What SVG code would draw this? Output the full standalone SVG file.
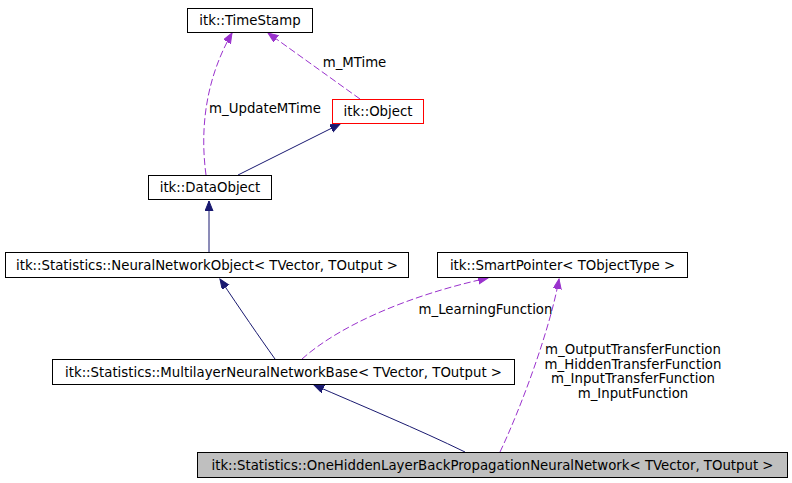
<svg xmlns="http://www.w3.org/2000/svg" width="792" height="483" viewBox="0 0 792 483">
<style>
text { font-family: "DejaVu Sans", "Liberation Sans", sans-serif; font-size: 13.3px; fill: #000; }
.node rect { fill: #fff; stroke: #000; stroke-width: 1; }
.node text { text-anchor: middle; }
.inh { fill: none; stroke: #191970; stroke-width: 1; marker-end: url(#navyArrow); }
.use { fill: none; stroke: #9a32cd; stroke-width: 1; stroke-dasharray: 7,3; marker-end: url(#purpleArrow); }
.lbl { text-anchor: middle; }
</style>
<defs>
<marker id="navyArrow" markerUnits="userSpaceOnUse" markerWidth="12" markerHeight="9" refX="10" refY="4" orient="auto">
<path d="M0,0 L10,4 L0,8 z" fill="#191970" stroke="#191970"/>
</marker>
<marker id="purpleArrow" markerUnits="userSpaceOnUse" markerWidth="12" markerHeight="9" refX="10" refY="4" orient="auto">
<path d="M0,0 L10,4 L0,8 z" fill="#9a32cd" stroke="#9a32cd"/>
</marker>
</defs>
<rect width="792" height="483" fill="#fff"/>
<g id="connectors">
<path class="use" d="M206,175 C200,130 205,80 232,33"/>
<path class="use" d="M360,99 L268,33"/>
<path class="inh" d="M238,175 L340,124"/>
<path class="inh" d="M209,253 L209,201"/>
<path class="inh" d="M275,359 C260,338 240,309 220,279"/>
<path class="use" d="M302,359 C340,325 410,295 488,278"/>
<path class="inh" d="M465,452 C420,430 360,405 314,385"/>
<path class="use" d="M500,452 C520,410 550,330 559,279"/>
<text class="lbl" x="354.5" y="67">m_MTime</text>
<text class="lbl" x="265" y="113">m_UpdateMTime</text>
<text class="lbl" x="485.5" y="314">m_LearningFunction</text>
<text class="lbl" x="633" y="354">m_OutputTransferFunction</text>
<text class="lbl" x="633" y="369">m_HiddenTransferFunction</text>
<text class="lbl" x="633" y="383">m_InputTransferFunction</text>
<text class="lbl" x="633" y="398">m_InputFunction</text>
</g>
<g id="node_timestamp" class="node">
<rect x="187.5" y="8.5" width="125" height="24"/>
<text x="250" y="25">itk::TimeStamp</text>
</g>
<g id="node_object" class="node">
<rect x="332.5" y="99.5" width="91" height="24" style="stroke:#ff0000"/>
<text x="378" y="116">itk::Object</text>
</g>
<g id="node_dataobject" class="node">
<rect x="148.5" y="175.5" width="123" height="24"/>
<text x="210" y="192">itk::DataObject</text>
</g>
<g id="node_nno" class="node">
<rect x="5.5" y="252.5" width="403" height="25"/>
<text x="207" y="270">itk::Statistics::NeuralNetworkObject&lt; TVector, TOutput &gt;</text>
</g>
<g id="node_smartpointer" class="node">
<rect x="437.5" y="252.5" width="250" height="25"/>
<text x="562.5" y="270">itk::SmartPointer&lt; TObjectType &gt;</text>
</g>
<g id="node_multilayer" class="node">
<rect x="52.5" y="359.5" width="462" height="25"/>
<text x="283.5" y="377">itk::Statistics::MultilayerNeuralNetworkBase&lt; TVector, TOutput &gt;</text>
</g>
<g id="node_onehidden" class="node">
<rect x="197.5" y="452.5" width="590" height="25" style="fill:#bfbfbf"/>
<text x="492.5" y="470">itk::Statistics::OneHiddenLayerBackPropagationNeuralNetwork&lt; TVector, TOutput &gt;</text>
</g>
</svg>
